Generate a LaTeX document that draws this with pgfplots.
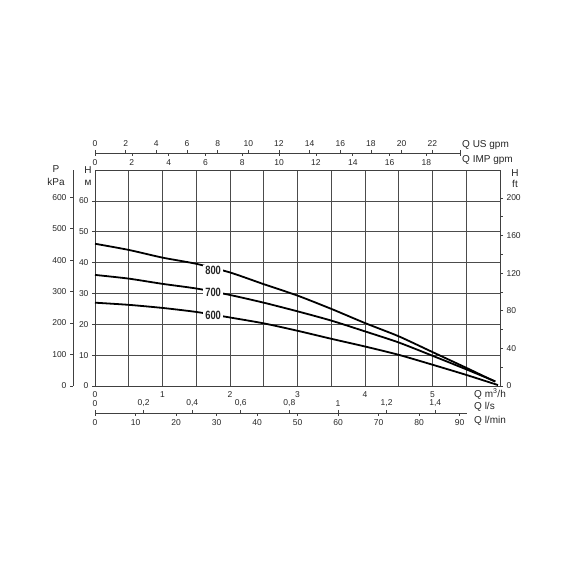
\documentclass[border=0pt]{standalone}
\usepackage{fontspec}
\setmainfont{Liberation Sans}
\newfontfamily\condfont[FakeStretch=0.78]{Liberation Sans Bold}
\usepackage{pgfplots}
\pgfplotsset{compat=1.18}
\pgfplotsset{
  base/.style={scale only axis, anchor=south west, clip=false,
    /pgf/number format/assume math mode=true,
    /pgf/number format/use comma,
    tick label style={font=\fontsize{8.5}{10}\selectfont, text=black!85},
    axis line style={black!75, line width=0.7pt},
    every tick/.style={black!75, line width=0.6pt},
    major tick length=3pt, minor tick length=2.5pt, tick align=outside},
  every outer x axis line/.style={},
  every outer y axis line/.style={},
  every inner x axis line/.style={},
  every inner y axis line/.style={},
}
\begin{document}
\begin{tikzpicture}
\path (0,0) rectangle (570pt,570pt);
% main axis
\begin{axis}[base, at={(95pt,184pt)}, width=405pt, height=216pt,
  xmin=0, xmax=6, ymin=0, ymax=70,
  xtick={0,1,2,3,4,5}, minor xtick={0.5,1.5,2.5,3.5,4.5,5.5},
  ytick={0,10,20,30,40,50,60},
  grid=both,
  major grid style={black!70, line width=0.7pt},
  minor grid style={black!70, line width=0.7pt},
  xtick pos=left, ytick pos=left,
  xtick style={draw=none}, minor tick length=0pt,
  xticklabel style={yshift=1pt}]
\addplot[black, line width=1.8pt, smooth, tension=0.4] coordinates {
 (0,46.1) (0.5,44.1) (1,41.6) (1.5,39.6) (2,36.8) (2.5,33.0) (3,29.3) (3.5,25.0) (4,20.4) (4.5,16.1) (5,11.0) (5.5,5.9) (5.93,1.4)};
\addplot[black, line width=1.8pt, smooth, tension=0.4] coordinates {
 (0,36.0) (0.5,34.8) (1,33.1) (1.5,31.6) (2,29.5) (2.5,27.0) (3,24.2) (3.5,21.2) (4,17.7) (4.5,14.1) (5,9.8) (5.5,5.4) (5.93,1.5)};
\addplot[black, line width=1.8pt, smooth, tension=0.4] coordinates {
 (0,27.0) (0.5,26.3) (1,25.3) (1.5,24.0) (2,22.2) (2.5,20.3) (3,17.9) (3.5,15.3) (4,12.8) (4.5,10.1) (5,6.9) (5.5,3.6) (5.97,0.3)};
\node[fill=white, inner xsep=2pt, inner ysep=1pt, font=\condfont\fontsize{12}{13}\selectfont, text=black!85] at (axis cs:1.75,37.6) {800};
\node[fill=white, inner xsep=2pt, inner ysep=1pt, font=\condfont\fontsize{12}{13}\selectfont, text=black!85] at (axis cs:1.75,30.2) {700};
\node[fill=white, inner xsep=2pt, inner ysep=1pt, font=\condfont\fontsize{12}{13}\selectfont, text=black!85] at (axis cs:1.75,22.9) {600};
\end{axis}
% right ft axis
\begin{axis}[base, at={(95pt,184pt)}, width=405pt, height=216pt,
  xmin=0, xmax=6, ymin=0, ymax=229.66,
  axis y line*=right, hide x axis,
  ytick pos=right, yticklabel pos=right,
  ytick={0,40,80,120,160,200}, minor ytick={20,60,100,140,180}]
\end{axis}
% left kPa axis
\begin{axis}[base, at={(73pt,184pt)}, width=20pt, height=216pt,
  xmin=0, xmax=1, ymin=0, ymax=686.46,
  axis y line*=left, hide x axis,
  ytick pos=left, yticklabel pos=left,
  ytick={0,100,200,300,400,500,600}]
\end{axis}
% top US gpm
\begin{axis}[base, at={(95pt,407pt)}, width=365pt, height=10pt,
  xmin=0, xmax=23.808, ymin=0, ymax=1,
  axis x line*=top, hide y axis,
  xtick pos=right, xticklabel pos=right,
  xtick={0,2,4,6,8,10,12,14,16,18,20,22},
  extra x ticks={23.808}, extra x tick labels={},
  extra x tick style={tick align=center, major tick length=6pt}]
\end{axis}
% top IMP gpm
\begin{axis}[base, at={(95pt,417pt)}, width=365pt, height=10pt,
  xmin=0, xmax=19.824, ymin=0, ymax=1,
  axis x line*=bottom, hide y axis,
  xtick pos=left, xticklabel pos=left,
  xtick={0,2,4,6,8,10,12,14,16,18}]
\end{axis}
% bottom l/s
\begin{axis}[base, at={(95pt,147pt)}, width=372pt, height=10pt,
  xmin=0, xmax=1.5309, ymin=0, ymax=1,
  axis x line*=top, hide y axis,
  xtick pos=right, xticklabel pos=right,
  xtick={0,0.2,0.4,0.6,0.8,1,1.2,1.4}]
\end{axis}
% bottom l/min
\begin{axis}[base, at={(95pt,157pt)}, width=372pt, height=10pt,
  xmin=0, xmax=91.85, ymin=0, ymax=1,
  axis x line*=bottom, hide y axis,
  xtick pos=left, xticklabel pos=left,
  xtick={0,10,20,30,40,50,60,70,80,90}]
\end{axis}
% axis names
\begin{scope}[every node/.style={font=\fontsize{10}{11}\selectfont, text=black!85, inner sep=0pt}]
\node[anchor=west] at (462pt,425pt) {Q US gpm};
\node[anchor=west] at (462pt,410pt) {Q IMP gpm};
\node at (515pt,397pt) {H};
\node at (515pt,386pt) {ft};
\node at (56pt,401pt) {P};
\node at (56pt,388pt) {kPa};
\node at (88pt,400pt) {H};
\node at (88pt,387pt) {м};
\node[anchor=west] at (474pt,176pt) {Q m\textsuperscript{3}/h};
\node[anchor=west] at (474pt,163pt) {Q l/s};
\node[anchor=west] at (474pt,149pt) {Q l/min};
\end{scope}
\end{tikzpicture}
\end{document}
